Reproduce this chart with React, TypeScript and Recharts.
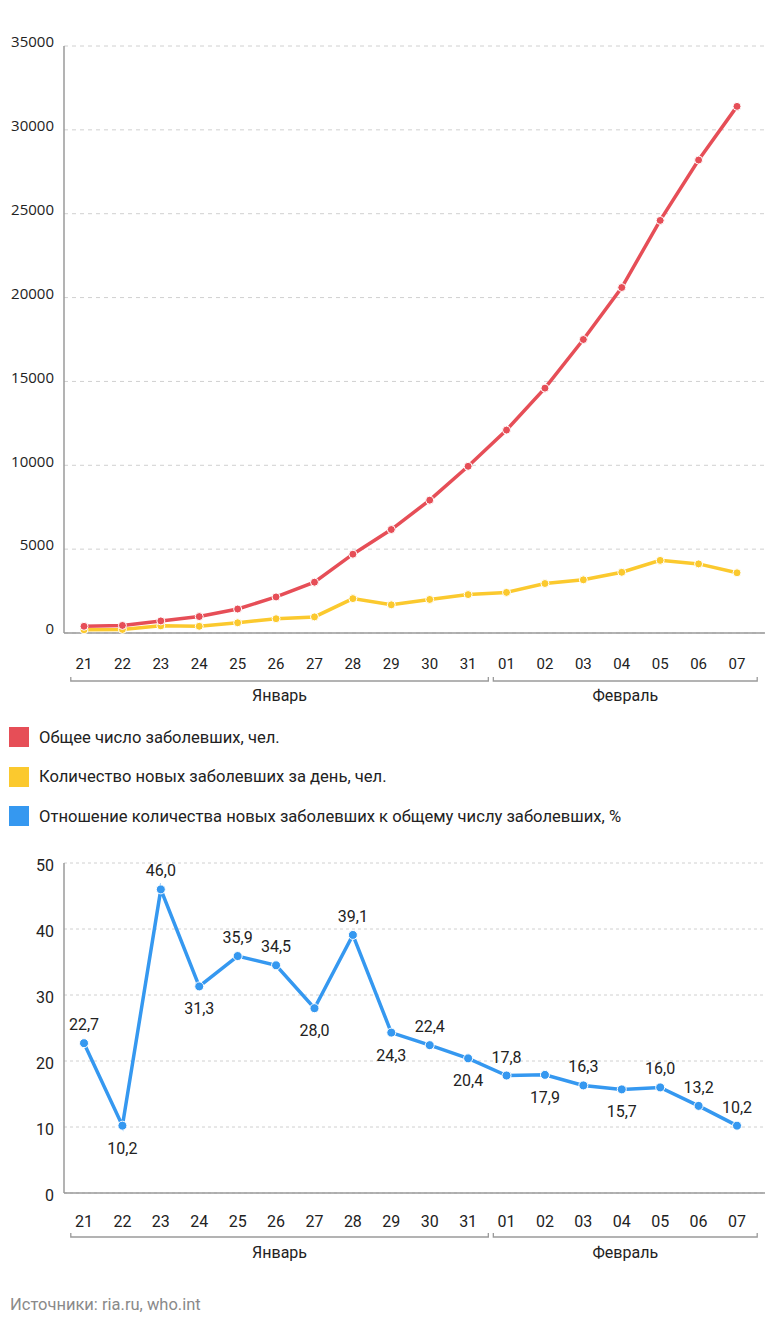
import React from 'react';
import {
  LineChart,
  Line,
  XAxis,
  YAxis,
  CartesianGrid,
  LabelList,
} from 'recharts';

const DAYS = ['21', '22', '23', '24', '25', '26', '27', '28', '29', '30', '31', '01', '02', '03', '04', '05', '06', '07'];
const MONTHS = [
  { name: 'Январь', count: 11 },
  { name: 'Февраль', count: 7 },
];

const TOTAL = [400, 450, 720, 980, 1430, 2150, 3030, 4700, 6170, 7920, 9940, 12100, 14600, 17500, 20600, 24600, 28200, 31400];
const NEW_PER_DAY = [190, 210, 425, 400, 610, 850, 960, 2050, 1680, 2000, 2290, 2420, 2950, 3170, 3620, 4330, 4120, 3590];
const RATIO = [22.7, 10.2, 46.0, 31.3, 35.9, 34.5, 28.0, 39.1, 24.3, 22.4, 20.4, 17.8, 17.9, 16.3, 15.7, 16.0, 13.2, 10.2];
const RATIO_LABEL_BELOW = [false, true, false, true, false, false, true, false, true, false, true, false, true, false, true, false, false, false];

const TOP_TICKS = [0, 5000, 10000, 15000, 20000, 25000, 30000, 35000];
const BOTTOM_TICKS = [0, 10, 20, 30, 40, 50];

const RED = '#e64e57';
const YELLOW = '#fbc92e';
const BLUE = '#3598f0';
const AXIS = '#9a9a9a';
const GRID = '#d0d0d0';
const TEXT = '#222';
const FONT = 'Roboto, sans-serif';

const W = 768;
const Y_AXIS_W = 64;
const RIGHT = 3;
const PAD = { left: 20, right: 28 };
const STEP = (W - Y_AXIS_W - RIGHT - PAD.left - PAD.right) / (DAYS.length - 1);

const topData = DAYS.map((d, i) => ({ day: d, total: TOTAL[i], fresh: NEW_PER_DAY[i] }));
const bottomData = DAYS.map((d, i) => ({ day: d, ratio: RATIO[i] }));

// month start index -> month
const monthStarts: Record<number, { name: string; count: number }> = {};
{
  let idx = 0;
  MONTHS.forEach((m) => {
    monthStarts[idx] = m;
    idx += m.count;
  });
}

function makeDayTick(fontSize: number, labelDy: number, bracketDy: number, monthDy: number) {
  return function DayTick(props: any) {
    const { x, y, payload, index } = props;
    const m = monthStarts[index];
    let bracket = null;
    if (m) {
      const left = x - STEP / 2 + 6;
      const right = x + (m.count - 1) * STEP + STEP / 2 + 1;
      const by = y + bracketDy;
      bracket = (
        <g>
          <path
            d={`M${left},${by - 4} L${left},${by} L${right},${by} L${right},${by - 4}`}
            fill="none"
            stroke={AXIS}
            strokeWidth={1.3}
          />
          <text
            x={(left + right) / 2}
            y={y + monthDy}
            textAnchor="middle"
            fontSize={16}
            fontFamily={FONT}
            fill={TEXT}
          >
            {m.name}
          </text>
        </g>
      );
    }
    return (
      <g>
        <text x={x} y={y + labelDy} textAnchor="middle" fontSize={fontSize} fontFamily={FONT} fill={TEXT}>
          {payload.value}
        </text>
        {bracket}
      </g>
    );
  };
}

const TopTick = makeDayTick(15, 28, 40, 60);
const BottomTick = makeDayTick(16, 26, 36, 57);

function RatioLabel(props: any) {
  const { x, y, value, index } = props;
  const below = RATIO_LABEL_BELOW[index];
  return (
    <text
      x={x}
      y={below ? y + 28 : y - 13}
      textAnchor="middle"
      fontSize={16}
      fontFamily={FONT}
      fill={TEXT}
    >
      {value.toFixed(1).replace('.', ',')}
    </text>
  );
}

const LEGEND = [
  { color: RED, text: 'Общее число заболевших, чел.' },
  { color: YELLOW, text: 'Количество новых заболевших за день, чел.' },
  { color: BLUE, text: 'Отношение количества новых заболевших к общему числу заболевших, %' },
];

export default function App() {
  const dot = (color: string) => ({ r: 4, fill: color, stroke: '#fff', strokeWidth: 1 });
  return (
    <div
      style={{
        position: 'absolute',
        left: 0,
        top: 0,
        width: W,
        height: 1342,
        background: '#fff',
        fontFamily: FONT,
      }}
    >
      <div style={{ position: 'absolute', left: 0, top: 0 }}>
        <LineChart width={W} height={720} data={topData} margin={{ top: 46, right: RIGHT, bottom: 0, left: 0 }}>
          <CartesianGrid vertical={false} stroke={GRID} strokeDasharray="4 4" />
          <XAxis
            dataKey="day"
            height={87}
            padding={PAD}
            axisLine={{ stroke: AXIS, strokeWidth: 1.5 }}
            tickLine={false}
            interval={0}
            tick={<TopTick />}
          />
          <YAxis
            width={Y_AXIS_W}
            domain={[0, 35000]}
            ticks={TOP_TICKS}
            axisLine={{ stroke: AXIS, strokeWidth: 1.5 }}
            tickLine={false}
            tickMargin={4}
            tick={{ fill: TEXT, fontSize: 15, fontFamily: '"Open Sans", sans-serif', dy: -4 }}
          />
          <Line
            dataKey="fresh"
            stroke={YELLOW}
            strokeWidth={3.5}
            dot={dot(YELLOW)}
            activeDot={false}
            isAnimationActive={false}
          />
          <Line
            dataKey="total"
            stroke={RED}
            strokeWidth={3.5}
            dot={dot(RED)}
            activeDot={false}
            isAnimationActive={false}
          />
        </LineChart>
      </div>

      {LEGEND.map((l, i) => (
        <div
          key={l.text}
          style={{
            position: 'absolute',
            left: 9,
            top: 727 + i * 39.5,
            display: 'flex',
            alignItems: 'center',
            height: 20,
          }}
        >
          <span style={{ width: 20, height: 20, background: l.color, display: 'inline-block' }} />
          <span style={{ marginLeft: 10, fontSize: 16.6, color: TEXT, whiteSpace: 'nowrap' }}>{l.text}</span>
        </div>
      ))}

      <div style={{ position: 'absolute', left: 0, top: 840 }}>
        <LineChart width={W} height={430} data={bottomData} margin={{ top: 23, right: RIGHT, bottom: 0, left: 0 }}>
          <CartesianGrid vertical={false} stroke={GRID} strokeDasharray="3 3" />
          <XAxis
            dataKey="day"
            height={77}
            padding={PAD}
            axisLine={{ stroke: AXIS, strokeWidth: 1.5 }}
            tickLine={false}
            interval={0}
            tick={<BottomTick />}
          />
          <YAxis
            width={Y_AXIS_W}
            domain={[0, 50]}
            ticks={BOTTOM_TICKS}
            axisLine={{ stroke: AXIS, strokeWidth: 1.5 }}
            tickLine={false}
            tickMargin={4}
            tick={{ fill: TEXT, fontSize: 16, fontFamily: FONT, dy: 2 }}
          />
          <Line
            dataKey="ratio"
            stroke={BLUE}
            strokeWidth={3.5}
            dot={{ r: 4.5, fill: BLUE, stroke: '#fff', strokeWidth: 1 }}
            activeDot={false}
            isAnimationActive={false}
          >
            <LabelList dataKey="ratio" content={<RatioLabel />} />
          </Line>
        </LineChart>
      </div>

      <div
        style={{
          position: 'absolute',
          left: 10,
          top: 1295,
          fontSize: 16.5,
          color: '#8a8a8a',
          whiteSpace: 'nowrap',
        }}
      >
        Источники: ria.ru, who.int
      </div>
    </div>
  );
}
